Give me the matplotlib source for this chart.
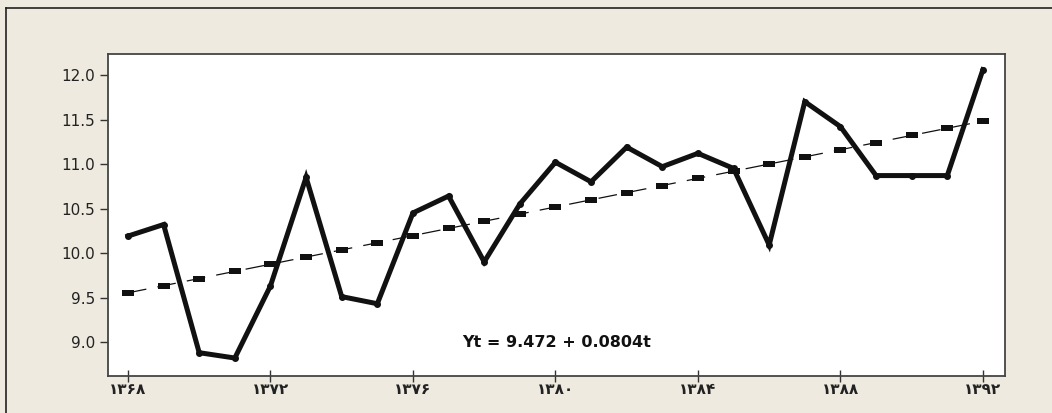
import matplotlib
matplotlib.use("Agg")
import matplotlib.pyplot as plt
from matplotlib.lines import Line2D

years = list(range(1368, 1393))
values = [10.19, 10.32, 8.88, 8.82, 9.63, 10.85, 9.51, 9.43, 10.45, 10.64,
          9.90, 10.55, 11.02, 10.80, 11.19, 10.97, 11.12, 10.95, 10.09, 11.70,
          11.42, 10.87, 10.87, 10.87, 12.06]
trend_a = 9.472
trend_b = 0.0804
trend = [trend_a + trend_b * (i + 1) for i in range(len(years))]
xtick_pos = [1368, 1372, 1376, 1380, 1384, 1388, 1392]
xtick_labels = ["۱۳۶۸", "۱۳۷۲", "۱۳۷۶", "۱۳۸۰", "۱۳۸۴", "۱۳۸۸", "۱۳۹۲"]
ytick_pos = [9.0, 9.5, 10.0, 10.5, 11.0, 11.5, 12.0]
ytick_labels = ["9.0", "9.5", "10.0", "10.5", "11.0", "11.5", "12.0"]
equation = "Yt = 9.472 + 0.0804t"

W, H = 1052, 413
bg = "#EEEAE0"
fig = plt.figure(figsize=(W / 100, H / 100), dpi=100, facecolor=bg)
ax = fig.add_axes([108 / W, 1 - 376 / H, (1005 - 108) / W, (376 - 54) / H])
ax.set_facecolor("white")

rect_marker = [(-1, -0.55), (1, -0.55), (1, 0.55), (-1, 0.55), (-1, -0.55)]
ax.plot(years, trend, color="#111111", lw=0.9, ls=(0, (15, 9)),
        marker=rect_marker, ms=8, markeredgewidth=0, zorder=2)
ax.plot(years, values, color="#111111", lw=3.6, marker="o", ms=4,
        solid_joinstyle="miter", zorder=3)

ax.set_xlim(1367.44, 1392.62)
ax.set_ylim(8.618, 12.236)
ax.set_xticks(xtick_pos)
ax.set_xticklabels(xtick_labels, fontfamily="DejaVu Sans", fontweight="bold",
                   fontsize=11, color="#222222")
ax.set_yticks(ytick_pos)
ax.set_yticklabels(ytick_labels, fontsize=11, color="#222222")
ax.tick_params(axis="y", direction="out", length=6, width=1, color="#333333", pad=3)
ax.tick_params(axis="x", direction="inout", length=8, width=1, color="#333333", pad=0)
for s in ax.spines.values():
    s.set_color("#444444")
    s.set_linewidth(1.3)

ax.text(0.5, 0.105, equation, transform=ax.transAxes, ha="center", va="center",
        fontsize=11.5, fontweight="bold", color="#111111")

# outer frame (top and left edges)
fig.add_artist(Line2D([6 / W, 6 / W], [0, 1 - 8 / H], transform=fig.transFigure,
                      color="#222222", lw=1.2))
fig.add_artist(Line2D([6 / W, 1], [1 - 8 / H, 1 - 8 / H], transform=fig.transFigure,
                      color="#222222", lw=1.2))

fig.savefig("out.png", dpi=100, facecolor=bg)
